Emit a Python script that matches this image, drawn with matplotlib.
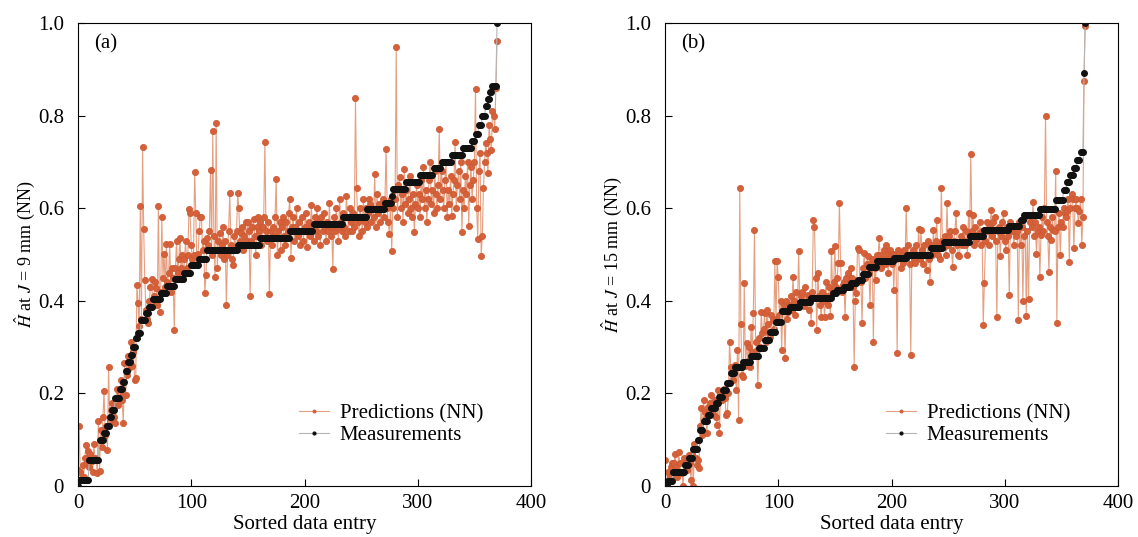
import numpy as np
import matplotlib
matplotlib.use("Agg")
import matplotlib.pyplot as plt

plt.rcParams["font.family"] = ["Liberation Serif", "DejaVu Serif"]
plt.rcParams["mathtext.fontset"] = "stix"

# ---- panel (a): J = 9 mm ----
# sorted measurements as (level, how many entries at that level)
meas_levels_a = [0.0, 0.013, 0.057, 0.10, 0.115, 0.13, 0.15, 0.165, 0.19, 0.209, 0.225, 0.249,
                 0.268, 0.283, 0.301, 0.319, 0.33, 0.359, 0.373, 0.387, 0.403, 0.417, 0.432,
                 0.448, 0.46, 0.477, 0.491, 0.509, 0.521, 0.536, 0.551, 0.566, 0.582, 0.598,
                 0.612, 0.627, 0.641, 0.656, 0.672, 0.686, 0.70, 0.715, 0.731, 0.745, 0.76,
                 0.78, 0.80, 0.82, 0.835, 0.85, 0.865, 1.0]
meas_counts_a = [1, 9, 9, 4, 3, 2, 2, 3, 4, 3, 2, 2,
                 3, 2, 2, 2, 3, 4, 3, 3, 7, 6, 7,
                 8, 6, 7, 7, 27, 20, 26, 21, 26, 21, 16,
                 6, 1, 12, 12, 12, 7, 9, 10, 8, 3, 3,
                 3, 3, 2, 2, 2, 4, 1]

pred_a = [
    0.035, 0.13, 0.03, 0.015, 0.045, 0.02, 0.06, 0.088, 0.05, 0.075,
    0.04, 0.07, 0.055, 0.03, 0.09, 0.06, 0.058, 0.027, 0.14, 0.033,
    0.12, 0.085, 0.15, 0.205, 0.11, 0.13, 0.078, 0.258, 0.14, 0.165,
    0.18, 0.164, 0.15, 0.135, 0.21, 0.175, 0.19, 0.2, 0.23, 0.185,
    0.135, 0.266, 0.196, 0.24, 0.28, 0.255, 0.27, 0.31, 0.26, 0.29,
    0.23, 0.233, 0.434, 0.396, 0.345, 0.605, 0.36, 0.733, 0.554, 0.444,
    0.38, 0.36, 0.353, 0.4, 0.43, 0.448, 0.391, 0.41, 0.44, 0.427,
    0.39, 0.605, 0.375, 0.42, 0.58, 0.45, 0.502, 0.43, 0.523, 0.44,
    0.46, 0.523, 0.42, 0.47, 0.45, 0.337, 0.47, 0.53, 0.46, 0.49,
    0.535, 0.47, 0.5, 0.448, 0.49, 0.53, 0.47, 0.5, 0.599, 0.589,
    0.52, 0.49, 0.5, 0.679, 0.589, 0.48, 0.502, 0.55, 0.58, 0.58,
    0.51, 0.53, 0.417, 0.456, 0.535, 0.52, 0.55, 0.682, 0.5, 0.766,
    0.54, 0.452, 0.783, 0.47, 0.53, 0.546, 0.5, 0.52, 0.56, 0.49,
    0.53, 0.392, 0.5, 0.55, 0.633, 0.52, 0.49, 0.477, 0.54, 0.51,
    0.55, 0.632, 0.6, 0.53, 0.546, 0.56, 0.51, 0.54, 0.57, 0.53,
    0.57, 0.55, 0.41, 0.53, 0.56, 0.577, 0.54, 0.5, 0.56, 0.58,
    0.55, 0.57, 0.52, 0.56, 0.58, 0.744, 0.55, 0.53, 0.57, 0.415,
    0.55, 0.52, 0.56, 0.54, 0.58, 0.663, 0.5, 0.55, 0.57, 0.51,
    0.56, 0.58, 0.54, 0.52, 0.57, 0.55, 0.59, 0.62, 0.493, 0.56,
    0.58, 0.53, 0.56, 0.6, 0.54, 0.57, 0.52, 0.55, 0.58, 0.53,
    0.56, 0.59, 0.517, 0.55, 0.57, 0.54, 0.606, 0.56, 0.53, 0.58,
    0.55, 0.6, 0.54, 0.57, 0.52, 0.58, 0.55, 0.59, 0.56, 0.53,
    0.57, 0.55, 0.612, 0.54, 0.56, 0.468, 0.58, 0.55, 0.6, 0.56,
    0.53, 0.62, 0.57, 0.55, 0.59, 0.56, 0.54, 0.627, 0.58, 0.55,
    0.6, 0.57, 0.55, 0.59, 0.56, 0.837, 0.643, 0.57, 0.54, 0.6,
    0.58, 0.55, 0.62, 0.57, 0.6, 0.56, 0.59, 0.62, 0.61, 0.57,
    0.6, 0.58, 0.674, 0.56, 0.63, 0.59, 0.61, 0.57, 0.6, 0.62,
    0.58, 0.61, 0.728, 0.6, 0.57, 0.544, 0.62, 0.508, 0.6, 0.64,
    0.62, 0.949, 0.58, 0.65, 0.667, 0.6, 0.63, 0.57, 0.685, 0.61,
    0.64, 0.59, 0.62, 0.67, 0.6, 0.58, 0.63, 0.548, 0.61, 0.65,
    0.6, 0.63, 0.58, 0.66, 0.62, 0.69, 0.6, 0.64, 0.57, 0.62,
    0.66, 0.70, 0.61, 0.64, 0.59, 0.68, 0.63, 0.6, 0.65, 0.772,
    0.62, 0.68, 0.64, 0.6, 0.66, 0.7, 0.58, 0.64, 0.61, 0.67,
    0.584, 0.63, 0.66, 0.744, 0.6, 0.65, 0.68, 0.62, 0.7, 0.548,
    0.64, 0.6, 0.67, 0.63, 0.7, 0.562, 0.65, 0.69, 0.62, 0.66,
    0.7, 0.857, 0.6, 0.533, 0.68, 0.72, 0.497, 0.54, 0.643, 0.7,
    0.74, 0.72, 0.676, 0.78, 0.75, 0.725, 0.81, 0.8, 0.772, 0.86, 0.962,
]

# ---- panel (b): J = 15 mm ----
meas_levels_b = [0.0, 0.01, 0.03, 0.045, 0.06, 0.08, 0.10, 0.12, 0.14, 0.153, 0.168, 0.18,
                 0.193, 0.207, 0.222, 0.243, 0.258, 0.268, 0.28, 0.297, 0.315, 0.333, 0.355,
                 0.377, 0.387, 0.398, 0.405, 0.416, 0.423, 0.43, 0.439, 0.446, 0.458, 0.474,
                 0.485, 0.492, 0.50, 0.513, 0.526, 0.539, 0.552, 0.562, 0.574, 0.586, 0.598,
                 0.617, 0.64, 0.657, 0.671, 0.686, 0.704, 0.722, 0.893, 1.0]
meas_counts_b = [3, 4, 11, 3, 4, 4, 2, 3, 4, 3, 4, 3,
                 3, 4, 3, 4, 7, 7, 7, 5, 5, 5, 5,
                 7, 9, 10, 19, 4, 6, 6, 6, 5, 5, 7,
                 15, 12, 21, 11, 23, 13, 22, 10, 3, 14, 14,
                 7, 3, 3, 3, 3, 3, 3, 1, 1]

pred_b = [
    0.056, 0.01, 0.0, 0.03, 0.02, 0.04, 0.049, 0.03, 0.05, 0.07,
    0.04, 0.02, 0.073, 0.05, 0.03, 0.027, 0.0, 0.06, 0.049, 0.035,
    0.06, 0.067, 0.05, 0.013, 0.07, 0.0, 0.09, 0.06, 0.045, 0.056,
    0.038, 0.13, 0.168, 0.11, 0.186, 0.16, 0.147, 0.114, 0.17, 0.16,
    0.18, 0.196, 0.17, 0.153, 0.185, 0.15, 0.132, 0.207, 0.114, 0.2,
    0.186, 0.196, 0.21, 0.19, 0.153, 0.157, 0.2, 0.312, 0.258, 0.23,
    0.229, 0.25, 0.262, 0.207, 0.294, 0.142, 0.643, 0.35, 0.24, 0.236,
    0.438, 0.26, 0.309, 0.27, 0.3, 0.258, 0.344, 0.29, 0.373, 0.553,
    0.31, 0.294, 0.218, 0.32, 0.3, 0.376, 0.33, 0.34, 0.373, 0.31,
    0.38, 0.35, 0.33, 0.322, 0.37, 0.358, 0.34, 0.485, 0.36, 0.485,
    0.452, 0.37, 0.4, 0.294, 0.38, 0.39, 0.276, 0.4, 0.36, 0.376,
    0.39, 0.41, 0.38, 0.452, 0.4, 0.37, 0.42, 0.39, 0.508, 0.395,
    0.41, 0.42, 0.39, 0.388, 0.43, 0.4, 0.413, 0.38, 0.41, 0.353,
    0.42, 0.575, 0.56, 0.449, 0.337, 0.46, 0.41, 0.39, 0.364, 0.42,
    0.4, 0.364, 0.44, 0.41, 0.39, 0.43, 0.367, 0.508, 0.42, 0.44,
    0.518, 0.43, 0.45, 0.481, 0.611, 0.481, 0.42, 0.434, 0.44, 0.364,
    0.45, 0.43, 0.46, 0.44, 0.47, 0.45, 0.43, 0.258, 0.4, 0.416,
    0.513, 0.51, 0.445, 0.44, 0.353, 0.47, 0.503, 0.45, 0.48, 0.496,
    0.46, 0.391, 0.48, 0.49, 0.312, 0.47, 0.445, 0.5, 0.48, 0.535,
    0.5, 0.47, 0.49, 0.51, 0.48, 0.52, 0.5, 0.46, 0.49, 0.51,
    0.48, 0.502, 0.423, 0.5, 0.49, 0.288, 0.51, 0.502, 0.47, 0.5,
    0.481, 0.51, 0.49, 0.6, 0.5, 0.52, 0.48, 0.283, 0.5, 0.51,
    0.49, 0.481, 0.52, 0.5, 0.556, 0.49, 0.553, 0.51, 0.48, 0.52,
    0.5, 0.466, 0.53, 0.49, 0.441, 0.52, 0.5, 0.553, 0.51, 0.53,
    0.575, 0.5, 0.52, 0.49, 0.643, 0.53, 0.517, 0.54, 0.5, 0.612,
    0.52, 0.539, 0.55, 0.51, 0.474, 0.53, 0.55, 0.589, 0.52, 0.5,
    0.496, 0.54, 0.52, 0.56, 0.53, 0.52, 0.55, 0.5, 0.589, 0.54,
    0.718, 0.55, 0.586, 0.52, 0.56, 0.532, 0.54, 0.546, 0.57, 0.52,
    0.55, 0.348, 0.438, 0.53, 0.57, 0.55, 0.52, 0.56, 0.596, 0.54,
    0.57, 0.58, 0.53, 0.365, 0.55, 0.56, 0.496, 0.54, 0.57, 0.589,
    0.53, 0.51, 0.56, 0.54, 0.413, 0.57, 0.55, 0.553, 0.52, 0.56,
    0.539, 0.55, 0.359, 0.57, 0.52, 0.56, 0.4, 0.54, 0.58, 0.367,
    0.55, 0.403, 0.57, 0.584, 0.56, 0.614, 0.54, 0.57, 0.502, 0.55,
    0.56, 0.452, 0.543, 0.58, 0.55, 0.6, 0.799, 0.57, 0.54, 0.463,
    0.56, 0.532, 0.58, 0.553, 0.55, 0.681, 0.352, 0.56, 0.59, 0.5,
    0.57, 0.56, 0.6, 0.589, 0.58, 0.595, 0.62, 0.484, 0.6, 0.63,
    0.62, 0.513, 0.6, 0.619, 0.6, 0.567, 0.593, 0.62, 0.521, 0.58, 0.875, 0.994,
]

panels = [
    ("(a)", meas_levels_a, meas_counts_a, pred_a, r"$\hat{H}$ at $J$ = 9 mm (NN)"),
    ("(b)", meas_levels_b, meas_counts_b, pred_b, r"$\hat{H}$ at $J$ = 15 mm (NN)"),
]

W, H = 1138, 537
fig = plt.figure(figsize=(W / 100, H / 100), dpi=100)
lefts = [78, 665]

for left, (tag, levels, counts, pred, ylabel) in zip(lefts, panels):
    ax = fig.add_axes([left / W, (H - 486) / H, 453 / W, 463 / H])
    meas = np.repeat(levels, counts)
    x = np.arange(len(meas))

    ax.plot(x, pred, color="#e6a081", lw=0.8, marker="o", ms=4.5,
            mfc="#d5603a", mec="#c9582f", mew=0.5, label="Predictions (NN)", zorder=2)
    ax.plot(x, meas, color="#b5b5b5", lw=0.8, marker="o", ms=4.0,
            mfc="#111111", mec="#111111", label="Measurements", zorder=3)

    ax.set_xlim(0, 400)
    ax.set_ylim(0, 1)
    ax.set_xticks([0, 100, 200, 300, 400])
    ax.set_yticks([0, 0.2, 0.4, 0.6, 0.8, 1.0])
    ax.set_yticklabels(["0", "0.2", "0.4", "0.6", "0.8", "1.0"])
    ax.tick_params(direction="in", length=5, labelsize=15, top=False, right=False)
    ax.tick_params(axis="y", pad=10)
    ax.tick_params(axis="x", pad=6)
    ax.set_xlabel("Sorted data entry", fontsize=15, labelpad=1)
    ax.set_ylabel(ylabel, fontsize=13, labelpad=1)
    ax.text(0.035, 0.955, tag, transform=ax.transAxes, fontsize=15, va="center", ha="left")

    ax.legend(loc="lower left", bbox_to_anchor=(0.47, 0.07), frameon=False, fontsize=15,
              handlelength=1.45, handletextpad=0.5, labelspacing=0.1, markerscale=0.5,
              borderaxespad=0)

fig.savefig("out.png", dpi=100)
